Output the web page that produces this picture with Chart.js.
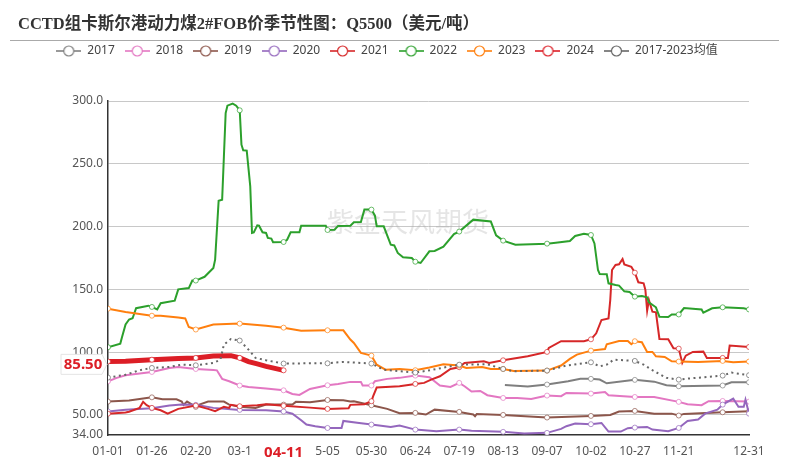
<!DOCTYPE html>
<html>
<head>
<meta charset="utf-8">
<script src="https://cdn.jsdelivr.net/npm/chart.js@4"></script>
<style>
body { margin: 0; background: #fff; }
#titulo { position: absolute; left: 18px; top: 10px; font: bold 16.5px "Liberation Serif", "Noto Sans CJK SC", serif; color: #333; white-space: nowrap; }
#regla { position: absolute; left: 10px; top: 40px; width: 769px; height: 1px; background: #aaa; }
#myChart { position: absolute; left: 0; top: 0; }
</style>
</head>
<body>
<canvas id="myChart" width="789" height="460"></canvas>
<div id="titulo">CCTD组卡斯尔港动力煤2#FOB价季节性图：Q5500（美元/吨）</div>
<div id="regla"></div>
<script>
var names = ['2017', '2018', '2019', '2020', '2021', '2022', '2023', '2024', '2017-2023均值'];
var colors = ['#7f7f7f', '#e377c2', '#8c564b', '#9467bd', '#d62728', '#2ca02c', '#ff7f0e', '#dc1e26', '#666666'];

var tickDays = [0, 25, 50, 75, 100, 125, 150, 175, 200, 225, 250, 275, 300, 325, 365];
var tickLabels = ['01-01', '01-26', '02-20', '03-1', '04-11', '5-05', '05-30', '06-24', '07-19', '08-13', '09-07', '10-02', '10-27', '11-21', '12-31'];
var yTicks = [34, 50, 100, 150, 200, 250, 300];
var yLabels = ['34.00', '50.00', '100.0', '150.0', '200.0', '250.0', '300.0'];
var markerDays = [0, 25, 50, 75, 100, 125, 150, 175, 200, 225, 250, 275, 300, 325, 350, 365];

var days2017 = [226, 239, 250, 262, 269, 275, 280, 284, 300, 311, 318, 325, 350, 355, 365];
var vals2017 = [73.9, 72.6, 74.2, 76.8, 78.7, 78.7, 78.2, 75.2, 77.9, 76.5, 73.6, 72.8, 73.4, 76, 76];

var days2018 = [0, 5, 10, 25, 35, 40, 50, 60, 62, 65, 69, 75, 80, 90, 100, 105, 109, 115, 125, 131, 138, 144, 145, 150, 152, 159, 166, 175, 183, 189, 195, 200, 203, 207, 212, 216, 225, 233, 241, 250, 258, 261, 275, 283, 285, 300, 311, 325, 330, 338, 342, 350, 365];
var vals2018 = [76.8, 79.5, 81.6, 84.2, 87.4, 88.2, 86.6, 85.8, 85.5, 78.7, 76.8, 73.4, 72.3, 71, 69.6, 66.7, 65.9, 70.7, 73.6, 74.7, 76.3, 76.3, 73.4, 73.4, 76.8, 78.7, 79.5, 81.3, 80, 73.4, 72.3, 75.5, 72.8, 68.6, 69.1, 65.7, 63.5, 63.5, 62.7, 65.4, 64.9, 67.5, 67, 68.3, 65.7, 64.3, 64.3, 60.4, 58.5, 57.7, 60.9, 61.1, 60.6];

var days2019 = [0, 12, 25, 31, 39, 42, 43, 45, 50, 52, 57, 66, 69, 75, 84, 90, 100, 105, 107, 115, 125, 134, 138, 140, 150, 159, 166, 175, 181, 186, 200, 208, 209, 210, 225, 250, 275, 286, 291, 300, 311, 321, 325, 328, 350, 365];
var vals2019 = [60.6, 61.4, 64, 62.5, 62.5, 60.6, 58, 60.6, 56.4, 58.2, 60.6, 60.6, 58.2, 56.4, 55.6, 58.2, 58.2, 58.2, 60.4, 60.1, 61.9, 61.7, 60.6, 60.9, 57.7, 54.8, 51.3, 51.6, 50.3, 54.2, 52.4, 50.3, 49, 50.8, 50, 47.9, 49.2, 50, 52.7, 53.2, 51, 51, 49.5, 50.8, 52.1, 52.9];

var days2020 = [0, 10, 25, 35, 42, 50, 60, 75, 90, 100, 105, 110, 113, 118, 125, 133, 134, 143, 150, 161, 166, 175, 187, 200, 207, 225, 237, 250, 258, 261, 266, 275, 281, 285, 292, 296, 300, 307, 310, 319, 325, 330, 336, 340, 347, 350, 356, 359, 362, 363, 365];
var vals2020 = [52.7, 54.2, 55.3, 57.4, 58.2, 58, 55.6, 54, 53.7, 52.7, 51, 45.8, 42.3, 40.9, 39.6, 39.6, 45.2, 43.6, 42.3, 40.4, 41.5, 38.3, 37, 38.3, 37.3, 36.5, 35.1, 35.7, 38.9, 41, 43.1, 42.6, 43.6, 36.7, 36.7, 39.4, 39.9, 40.4, 38.3, 37, 39.6, 45.2, 46.3, 51, 54.2, 58.2, 63, 56.4, 56.4, 62.2, 51];

var days2021 = [0, 10, 12, 18, 20, 22, 25, 30, 34, 40, 50, 57, 61, 66, 69, 70, 75, 85, 90, 100, 115, 125, 137, 138, 146, 150, 151, 153, 166, 175, 180, 184, 189, 195, 200, 203, 214, 217, 225, 239, 250, 251, 258, 271, 275, 278, 281, 285, 286, 287, 289, 291, 293, 294, 298, 300, 302, 305, 306, 307, 308, 310, 312, 314, 319, 322, 325, 327, 329, 333, 339, 341, 347, 350, 353, 354, 365];
var vals2021 = [51, 52, 52.5, 55.6, 60.4, 57.7, 55.6, 53.7, 51, 54.8, 57.4, 54.8, 52.9, 56.4, 55.6, 58, 56.9, 57.7, 58.5, 57.2, 55.8, 54.8, 55.3, 58, 58.5, 60.9, 64.9, 71.8, 72.8, 74.7, 75.5, 78.1, 80.8, 86.6, 88, 91.4, 92.7, 91.4, 93.5, 96.7, 100.2, 103.3, 108.7, 108.7, 110.2, 115, 125.6, 126.9, 141.5, 165.4, 169.4, 169.9, 174.2, 169.9, 168, 163.3, 155.6, 154.8, 149.5, 133, 141.5, 132.2, 131.7, 110.5, 110.2, 103, 102.8, 91.4, 97.2, 100.2, 100.4, 95.4, 95.4, 95.4, 95.4, 105.2, 104.1];

var days2022 = [0, 7, 8, 10, 12, 14, 16, 23, 25, 28, 30, 38, 40, 46, 48, 50, 55, 60, 61, 63, 65, 66, 67, 68, 71, 73, 75, 76, 77, 79, 81, 82, 83, 85, 86, 88, 90, 91, 93, 94, 100, 102, 104, 109, 110, 124, 125, 129, 131, 138, 140, 144, 146, 150, 152, 153, 157, 161, 163, 165, 168, 173, 175, 178, 183, 186, 191, 197, 200, 208, 218, 221, 225, 232, 250, 255, 263, 266, 271, 275, 277, 279, 280, 284, 285, 289, 291, 294, 297, 300, 304, 307, 308, 312, 314, 319, 321, 325, 328, 338, 339, 344, 350, 362, 365];
var vals2022 = [103.9, 106.8, 112, 122, 126, 127, 135, 137, 136, 134, 139, 141, 150, 151, 157, 157, 160, 167, 173.7, 220.6, 221.4, 256, 290.4, 296.3, 297.9, 296.3, 292.6, 265.2, 260.7, 260.5, 232, 194.9, 195.4, 201, 200.7, 195.4, 194.9, 191, 190.4, 187.5, 187.7, 189.5, 195.4, 195.4, 200.7, 200.7, 197.3, 197.5, 200.5, 200.7, 203.4, 203.7, 213.5, 213.5, 208.7, 200.2, 200.2, 185.6, 185, 179, 175.5, 175, 172, 171, 180.3, 180.6, 184, 194, 196, 205.5, 204, 193, 188.8, 185.6, 186.4, 187.2, 188.5, 192.5, 194.3, 193.3, 186.6, 165.4, 162.2, 162, 154.8, 153.5, 153, 148.4, 147.9, 144.2, 144.7, 143.6, 139.6, 135.7, 128.2, 128, 130, 130, 135.1, 134, 131.4, 134.9, 135.7, 134.9, 134];

var days2023 = [0, 10, 25, 30, 40, 44, 46, 50, 60, 75, 90, 100, 110, 125, 134, 138, 140, 144, 150, 153, 158, 166, 175, 183, 191, 200, 204, 213, 218, 225, 231, 250, 258, 263, 267, 275, 283, 284, 291, 296, 298, 300, 304, 307, 310, 312, 317, 321, 325, 336, 350, 356, 365];
var vals2023 = [134.6, 132, 129, 129, 127.5, 126.8, 120, 118, 122, 122.7, 121, 119.5, 117, 117.4, 117.4, 110, 107.3, 99.4, 97.2, 90, 86, 86.6, 85.6, 87.7, 90.3, 89.3, 87.4, 88.2, 86.6, 86.6, 85, 85.3, 89.3, 94.6, 98, 101.2, 102.5, 106.3, 108.9, 108.9, 106.3, 108.7, 107.9, 100.2, 100.2, 96.7, 96.2, 92.7, 92.5, 92.2, 93, 91.9, 92.5];

var days2024 = [0, 10, 25, 40, 50, 60, 70, 75, 80, 85, 90, 100];
var vals2024 = [92.5, 92.7, 94, 94.9, 95.4, 97, 97.2, 95.4, 92.5, 90.6, 88.7, 85.5];

var daysAvg = [0, 10, 18, 25, 35, 42, 50, 60, 64, 66, 70, 75, 80, 84, 90, 100, 115, 125, 134, 150, 157, 166, 175, 185, 193, 200, 216, 225, 231, 250, 261, 275, 280, 284, 288, 300, 305, 311, 318, 325, 330, 350, 355, 365];
var valsAvg = [79.7, 82, 85.6, 87.4, 88.2, 90, 89.5, 91.4, 94, 106, 110.5, 109.2, 102, 95.4, 93.5, 90.9, 91.1, 91.1, 92.2, 90.9, 86, 84.8, 83.7, 86, 88.2, 90, 90.3, 86.6, 84.8, 85.3, 89.3, 91.9, 88.7, 90, 94, 93, 90, 84.8, 79.5, 78.1, 78.9, 81.3, 83.7, 81.6];

var allDays = [days2017, days2018, days2019, days2020, days2021, days2022, days2023, days2024, daysAvg];
var allVals = [vals2017, vals2018, vals2019, vals2020, vals2021, vals2022, vals2023, vals2024, valsAvg];

var lastPrice = vals2024[vals2024.length - 1];
var lastDay = days2024[days2024.length - 1];

function puntos(days, vals) {
    return days.map(function(d, i) { return { x: d, y: vals[i] }; });
}

// icono de la leyenda: linea con circulo
function iconoLeyenda(color) {
    var c = document.createElement('canvas');
    c.width = 25;
    c.height = 14;
    var g = c.getContext('2d');
    g.strokeStyle = color;
    g.globalAlpha = 0.8;
    g.lineWidth = 2;
    g.beginPath();
    g.moveTo(0, 7);
    g.lineTo(25, 7);
    g.stroke();
    g.globalAlpha = 1;
    g.fillStyle = '#fff';
    g.lineWidth = 1.2;
    g.beginPath();
    g.arc(12.5, 7, 5, 0, Math.PI * 2);
    g.fill();
    g.stroke();
    return c;
}

const extras = {
    id: 'extras',
    beforeInit: function(chart) {
        var fit = chart.legend.fit;
        chart.legend.fit = function() {
            fit.call(chart.legend);
            this.height = 66;
        };
    },
    beforeDatasetsDraw: function(chart) {
        var ctx = chart.ctx;
        ctx.save();
        ctx.font = '27px "Noto Sans CJK SC"';
        ctx.fillStyle = 'rgba(170,170,170,0.3)';
        ctx.textAlign = 'center';
        ctx.textBaseline = 'middle';
        ctx.fillText('紫金天风期货', 408, 222);
        ctx.restore();
    },
    afterDraw: function(chart) {
        // etiqueta del ultimo precio
        var ctx = chart.ctx;
        var cy = chart.scales.y.getPixelForValue(lastPrice) - 6;
        ctx.save();
        ctx.fillStyle = '#fff';
        ctx.strokeStyle = '#e4e4e4';
        ctx.lineWidth = 1;
        ctx.beginPath();
        ctx.moveTo(61, cy - 10);
        ctx.lineTo(102, cy - 10);
        ctx.lineTo(107, cy);
        ctx.lineTo(102, cy + 10);
        ctx.lineTo(61, cy + 10);
        ctx.closePath();
        ctx.fill();
        ctx.stroke();
        ctx.fillStyle = colors[7];
        ctx.font = 'bold 15px "Noto Sans"';
        ctx.textAlign = 'center';
        ctx.textBaseline = 'middle';
        ctx.fillText(lastPrice.toFixed(2), 83, cy);
        ctx.restore();
    }
};

function chartCreate() {
    const datasets = names.map(function(name, i) {
        return {
            label: name,
            data: puntos(allDays[i], allVals[i]),
            borderColor: colors[i],
            backgroundColor: '#fff',
            borderWidth: i == 7 ? 5 : 2,
            borderDash: i == 8 ? [2, 3.5] : [],
            tension: 0,
            order: -i,
            pointBackgroundColor: '#fff',
            pointBorderColor: colors[i] + 'b0',
            pointBorderWidth: 1,
            pointRadius: function(c) {
                return c.raw && markerDays.indexOf(c.raw.x) >= 0 ? 2.5 : 0;
            },
            pointHoverRadius: 3
        };
    });
    const config = {
        type: 'line',
        data: { datasets: datasets },
        options: {
            responsive: false,
            animation: false,
            layout: { padding: { left: 25, right: 40, top: 35, bottom: 0 } },
            plugins: {
                tooltip: { enabled: false },
                legend: {
                    position: 'top',
                    labels: {
                        usePointStyle: true,
                        pointStyleWidth: 25,
                        padding: 10,
                        color: '#444',
                        font: { family: '"Noto Sans", "Noto Sans CJK SC"', size: 12 },
                        sort: function(a, b) { return a.datasetIndex - b.datasetIndex; },
                        generateLabels: function(chart) {
                            return Chart.defaults.plugins.legend.labels.generateLabels(chart).map(function(it) {
                                it.pointStyle = iconoLeyenda(colors[it.datasetIndex]);
                                return it;
                            });
                        }
                    }
                }
            },
            scales: {
                x: {
                    type: 'linear',
                    min: 0,
                    max: 365,
                    grid: { display: false },
                    border: { color: '#333', width: 1.5 },
                    afterFit: function(scale) { scale.height = 25; },
                    afterBuildTicks: function(scale) {
                        scale.ticks = tickDays.map(function(d) { return { value: d }; });
                    },
                    ticks: {
                        autoSkip: false,
                        maxRotation: 0,
                        padding: 1,
                        color: function(c) { return c.tick && c.tick.value == lastDay ? colors[7] : '#555'; },
                        font: function(c) {
                            return c.tick && c.tick.value == lastDay
                                ? { family: '"Noto Sans"', size: 15, weight: 'bold' }
                                : { family: '"Noto Sans"', size: 12 };
                        },
                        callback: function(v) { return tickLabels[tickDays.indexOf(v)]; }
                    }
                },
                y: {
                    type: 'linear',
                    min: 34,
                    max: 300,
                    afterFit: function(scale) { scale.width = 83; },
                    afterBuildTicks: function(scale) {
                        scale.ticks = yTicks.map(function(v) { return { value: v }; });
                    },
                    grid: { color: function(c) { return c.tick && c.tick.value == 34 ? 'rgba(0,0,0,0)' : '#c8c8c8'; }, drawTicks: false },
                    border: { color: '#333', width: 1.5 },
                    ticks: {
                        padding: 5,
                        color: '#555',
                        font: { family: '"Noto Sans"', size: 12 },
                        callback: function(v) { return yLabels[yTicks.indexOf(v)]; }
                    }
                }
            }
        },
        plugins: [extras]
    };
    return new Chart(document.getElementById('myChart'), config);
}

window.onload = function() {
    chartCreate();
};
</script>
</body>
</html>
